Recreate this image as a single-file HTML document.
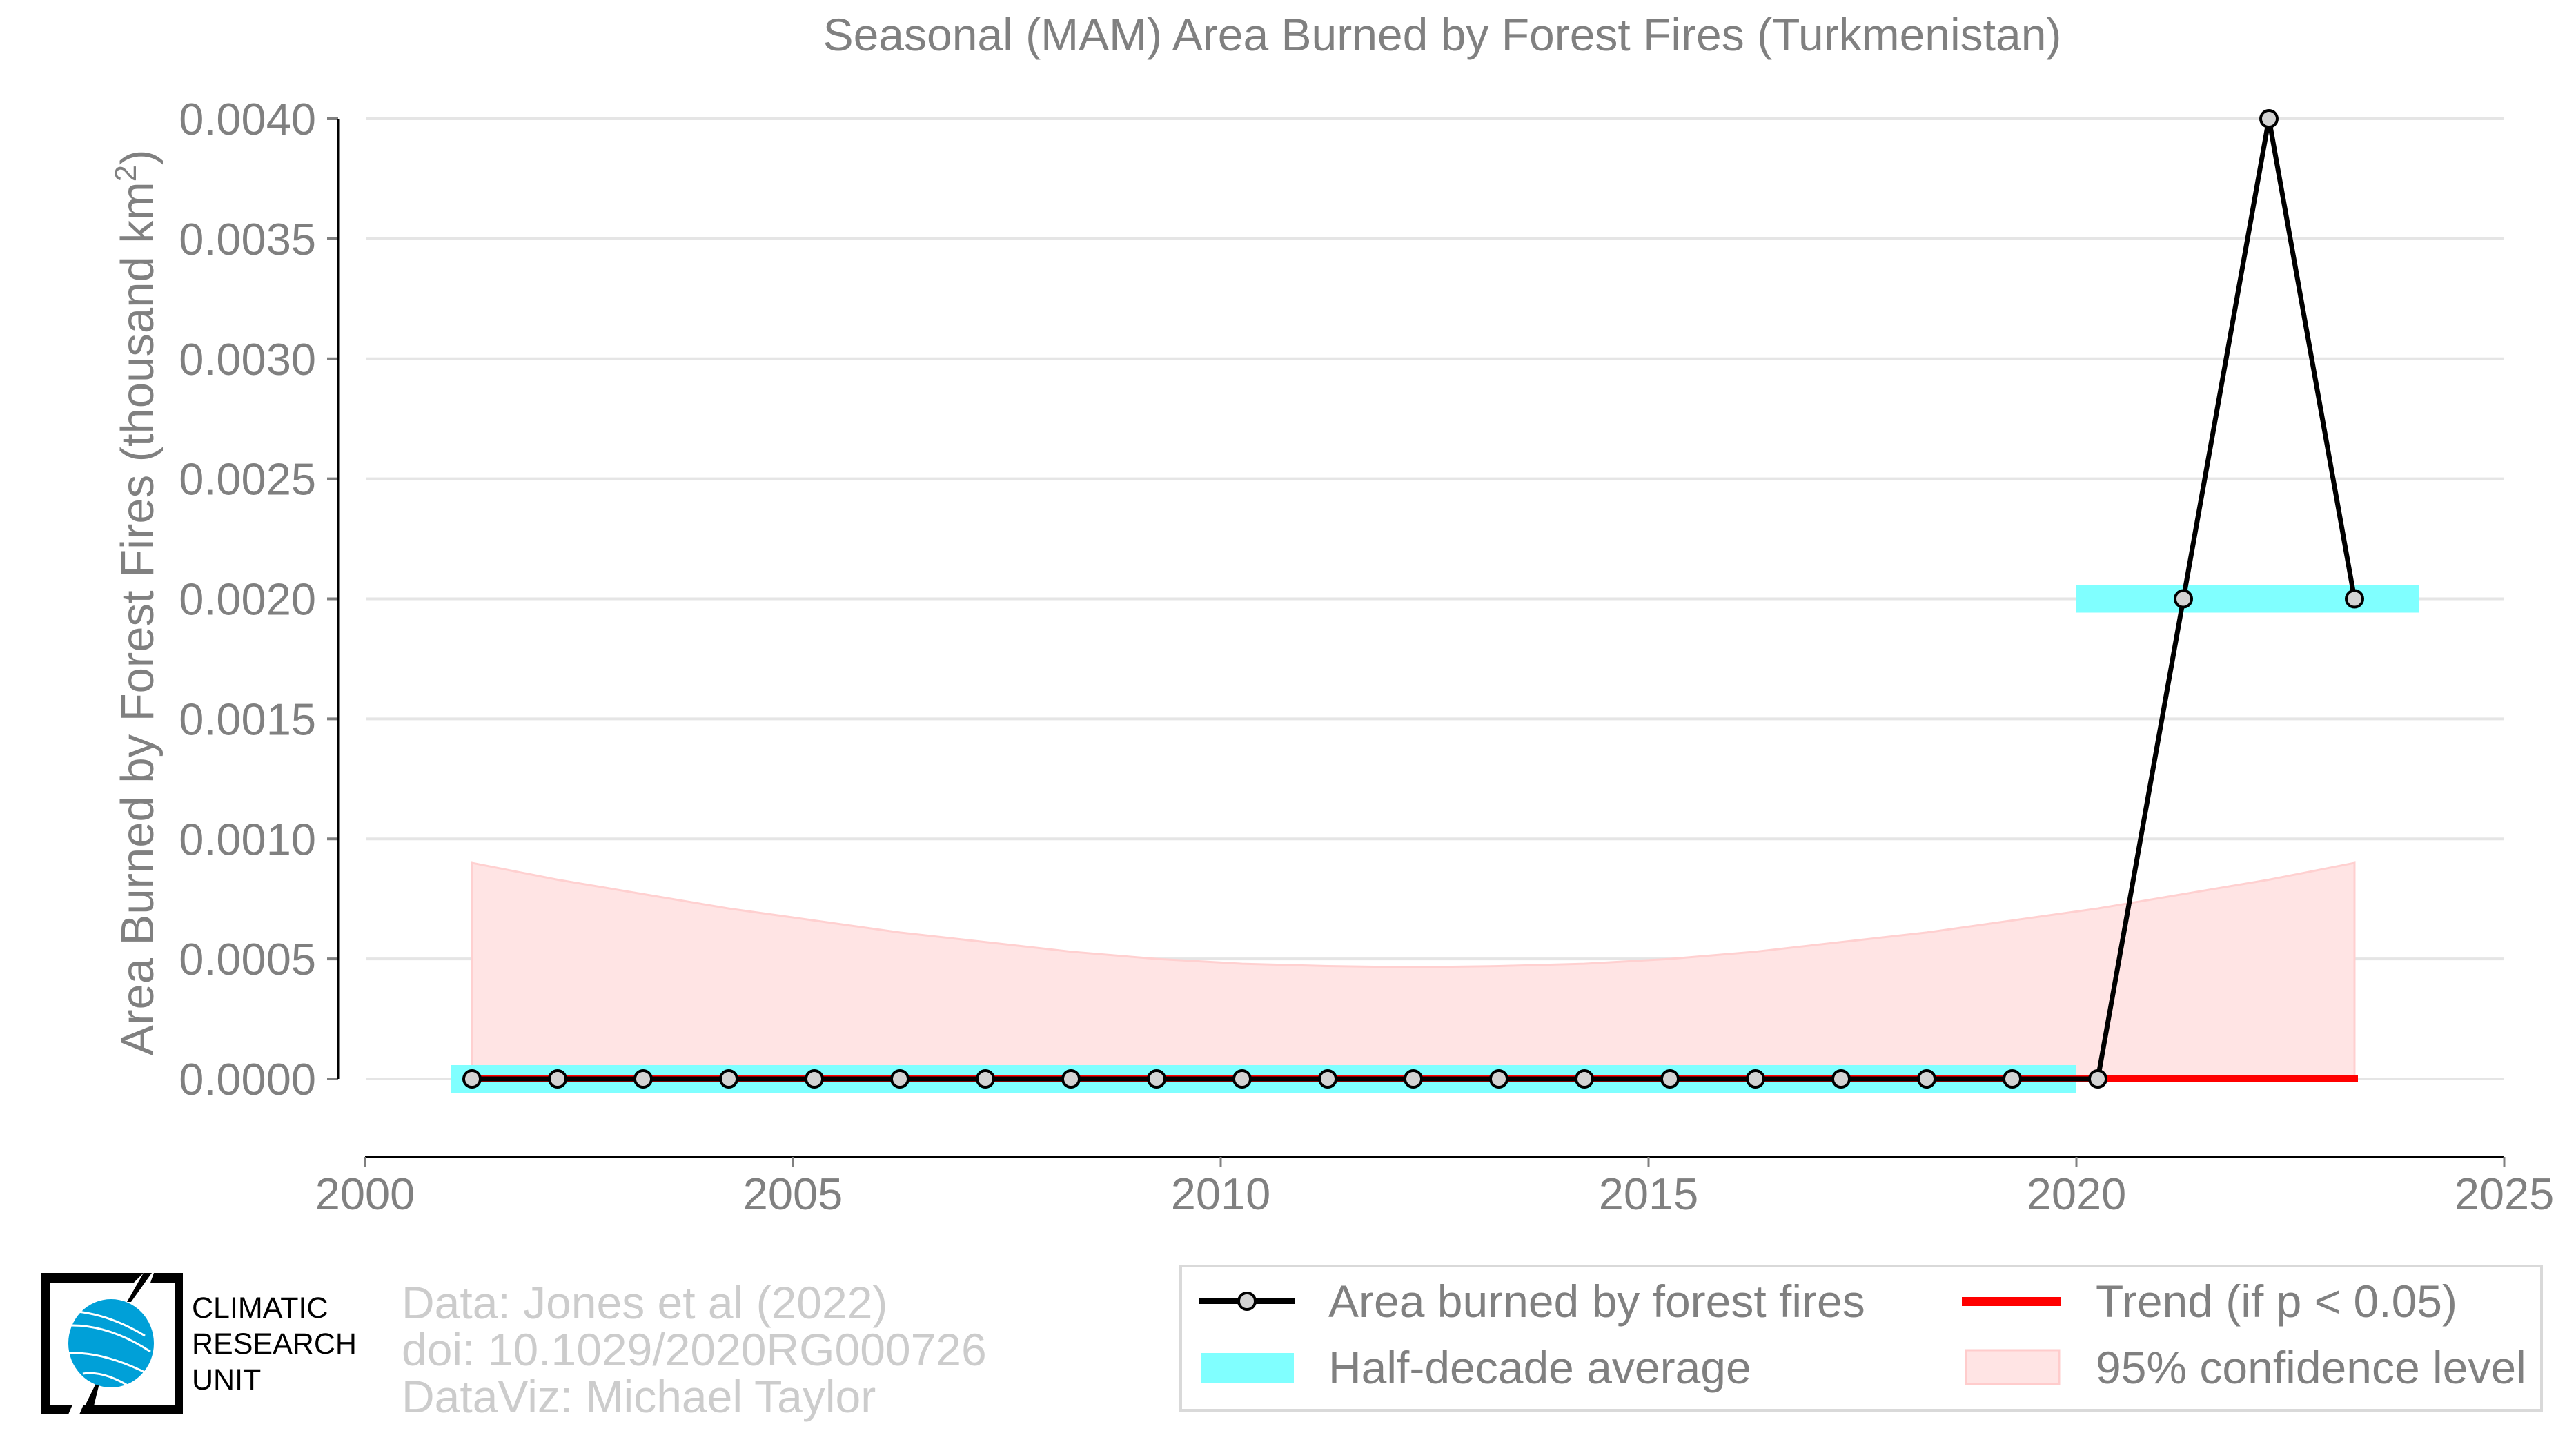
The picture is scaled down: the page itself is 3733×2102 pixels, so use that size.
<!DOCTYPE html>
<html><head><meta charset="utf-8"><style>
html,body{margin:0;padding:0;background:#fff;}
svg{display:block;font-family:"Liberation Sans",Arial,sans-serif;}
</style></head><body>
<svg id="chart" width="3733" height="2102" viewBox="0 0 3733 2102" xmlns="http://www.w3.org/2000/svg">
<text x="2090" y="73" font-size="66" fill="#808080" text-anchor="middle">Seasonal (MAM) Area Burned by Forest Fires (Turkmenistan)</text>
<text transform="translate(222,873) rotate(-90)" font-size="67" fill="#808080" text-anchor="middle">Area Burned by Forest Fires (thousand km<tspan font-size="44" dy="-25">2</tspan><tspan dy="25">)</tspan></text>
<g id="grid"></g>
<g id="plot"></g>
<g id="axes"></g>

<g>
  <path d="M60,1844 L208,1844 L194,1858 L72,1858 L72,2035 L105,2035 L99,2049 L60,2049 Z" fill="#000"/>
  <path d="M223,1844 L265,1844 L265,2049 L115,2049 L121,2035 L253,2035 L253,1858 L218,1858 Z" fill="#000"/>
  <path d="M208,1844 L184,1886 L190,1886 L220,1844 Z" fill="#000"/>
  <path d="M141,2000 L117,2049 L133,2049 L145,2000 Z" fill="#000"/>
  <ellipse cx="161" cy="1946" rx="62" ry="64" fill="#00a0d8"/>
  <path d="M104,1920 Q160,1920 218,1958 M100,1960 Q150,1958 214,1990 M112,1900 Q160,1905 210,1935 M120,1990 Q150,1985 190,2010" stroke="#fff" stroke-width="3" fill="none"/>
  <text x="278" y="1909" font-size="43" fill="#000">CLIMATIC</text>
  <text x="278" y="1961" font-size="43" fill="#000">RESEARCH</text>
  <text x="278" y="2013" font-size="43" fill="#000">UNIT</text>
</g>
<g font-size="66" fill="#cccccc">
  <text x="582" y="1910">Data: Jones et al (2022)</text>
  <text x="582" y="1978">doi: 10.1029/2020RG000726</text>
  <text x="582" y="2046">DataViz: Michael Taylor</text>
</g>
<g transform="translate(-9,-10)">
  <rect x="1720" y="1844" width="1972" height="209" fill="#fff" stroke="#d9d9d9" stroke-width="4"/>
  <g>
    <line x1="1747" y1="1895" x2="1886" y2="1895" stroke="#000" stroke-width="8"/>
    <circle cx="1816" cy="1895" r="12" fill="#d3d3d3" stroke="#000" stroke-width="4"/>
    <text x="1934" y="1918" font-size="66" fill="#808080">Area burned by forest fires</text>
  </g>
  <g>
    <rect x="2852" y="1889" width="144" height="13" fill="#ff0000"/>
    <text x="3046" y="1918" font-size="66" fill="#808080">Trend (if p &lt; 0.05)</text>
  </g>
  <g>
    <rect x="1749" y="1970" width="135" height="43" fill="#80ffff"/>
    <text x="1934" y="2014" font-size="66" fill="#808080">Half-decade average</text>
  </g>
  <g>
    <rect x="2858" y="1966" width="135" height="49" fill="#ffe4e4" stroke="#ffcccc" stroke-width="3"/>
    <text x="3046" y="2014" font-size="66" fill="#808080">95% confidence level</text>
  </g>
</g>
</svg>
<script>
const years = [2001,2002,2003,2004,2005,2006,2007,2008,2009,2010,2011,2012,2013,2014,2015,2016,2017,2018,2019,2020,2021,2022,2023];
const areaValues = [0,0,0,0,0,0,0,0,0,0,0,0,0,0,0,0,0,0,0,0,0.002,0.004,0.002];
const ciUpper = [0.0009,0.00083,0.00077,0.00071,0.00066,0.00061,0.00057,0.00053,0.0005,0.00048,0.00047,0.000465,0.00047,0.00048,0.0005,0.00053,0.00057,0.00061,0.00066,0.00071,0.00077,0.00083,0.0009];
const halfStart = [2001,2020];
const halfEnd = [2020,2024];
const halfValues = [0,0.002];
const trendStart = [2001.25];
const trendEnd = [2023.25];
const trendValues = [0,0];
const yTicks = [0,0.0005,0.001,0.0015,0.002,0.0025,0.003,0.0035,0.004];
const yTickLabels = ["0.0000","0.0005","0.0010","0.0015","0.0020","0.0025","0.0030","0.0035","0.0040"];
const xTicks = [2000,2005,2010,2015,2020,2025];
const xTickLabels = ["2000","2005","2010","2015","2020","2025"];

const NS = "http://www.w3.org/2000/svg";
const X0 = 529, X1 = 3629, Y0 = 1563, Y1 = 172;
function xs(v){ return X0 + (v-2000)/25*(X1-X0); }
function ys(v){ return Y0 - v/0.004*(Y0-Y1); }
function pos(yr){ return yr + 0.25; }
function mk(tag, attrs, parent){ const e=document.createElementNS(NS,tag); for(const k in attrs) e.setAttribute(k,attrs[k]); parent.appendChild(e); return e; }

const grid=document.getElementById('grid'), plot=document.getElementById('plot'), axes=document.getElementById('axes');
yTicks.forEach((t,i)=>{
  const g=mk('line',{x1:531,x2:3629,y1:ys(t),y2:ys(t),stroke:'#e5e5e5','stroke-width':4},grid);
  
  
  const tk=mk('line',{x1:474,x2:490,y1:ys(t),y2:ys(t),stroke:'#808080','stroke-width':4},axes);
  
  
  const lb=mk('text',{x:458,y:ys(t)+23,'font-size':65,fill:'#808080','text-anchor':'end'},axes);
  lb.textContent=yTickLabels[i];
  
  
});
const ya=mk('line',{x1:490,x2:490,y1:Y1,y2:Y0,stroke:'#000','stroke-width':3},axes);


const xa=mk('line',{x1:X0,x2:X1,y1:1676,y2:1676,stroke:'#000','stroke-width':3},axes);


xTicks.forEach((t,i)=>{
  const tk=mk('line',{x1:xs(t),x2:xs(t),y1:1676,y2:1690,stroke:'#808080','stroke-width':3},axes);
  
  
  const lb=mk('text',{x:xs(t),y:1752,'font-size':65,fill:'#808080','text-anchor':'middle'},axes);
  lb.textContent=xTickLabels[i];
  
  
});

let d='M'+xs(pos(years[0]))+','+ys(0);
years.forEach((y,i)=>{ d+=' L'+xs(pos(y))+','+ys(ciUpper[i]); });
d+=' L'+xs(pos(years[years.length-1]))+','+ys(0)+' Z';
const band=mk('path',{d:d,fill:'#ffe4e4',stroke:'#ffd0d0','stroke-width':3},plot);



halfValues.forEach((v,i)=>{
  const r=mk('rect',{x:xs(halfStart[i]),y:ys(v)-20,width:xs(halfEnd[i])-xs(halfStart[i]),height:40,fill:'#80ffff'},plot);
  
  
});

trendValues.forEach((v,i)=>{
  const l=mk('line',{x1:xs(trendStart[i]),x2:xs(trendEnd[i])+5,y1:ys(v),y2:ys(v),stroke:'#ff0000','stroke-width':10},plot);
  
  
});

const pts=years.map((y,i)=>xs(pos(y))+','+ys(areaValues[i])).join(' ');
const pl=mk('polyline',{points:pts,fill:'none',stroke:'#000','stroke-width':7,'stroke-linejoin':'round'},plot);


years.forEach((y,i)=>{
  const c=mk('circle',{cx:xs(pos(y)),cy:ys(areaValues[i]),r:12,fill:'#d3d3d3',stroke:'#000','stroke-width':4},plot);
  
  
});
</script>
</body></html>
